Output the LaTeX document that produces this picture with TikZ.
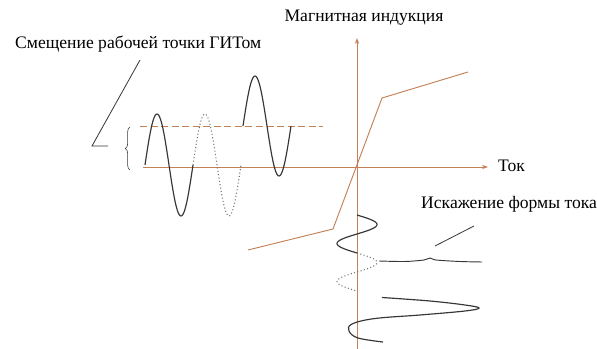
\documentclass[tikz,border=0pt]{standalone}
\usepackage{fontspec}
\setmainfont{Liberation Serif}
\usetikzlibrary{arrows.meta, decorations.pathreplacing, positioning}
\definecolor{axisbrown}{RGB}{196,128,86}
\definecolor{wavegray}{RGB}{55,55,55}
\definecolor{dotgray}{RGB}{115,115,115}

\begin{document}
\begin{tikzpicture}[x=0.03cm, y=-0.03cm,
    axis/.style={axisbrown, line width=0.8pt, -{Stealth[length=1.8mm, width=1.3mm]}},
    curve/.style={axisbrown, line width=0.8pt},
    wave/.style={wavegray, line width=1pt},
    dotwave/.style={dotgray, line width=0.9pt, dotted},
    pointer/.style={wavegray, line width=0.7pt},
    txt/.style={font=\fontsize{15}{17}\selectfont, inner sep=0pt}]
    \useasboundingbox (0,0) rectangle (597,349);

    % Axes
    \coordinate (O) at (357,167);
    \coordinate (Xs) at (143,167);
    \coordinate (Xe) at (488,167);
    \coordinate (Ys) at (357,349);
    \coordinate (Ye) at (357,38);
    \draw[axis] (Xs) -- (Xe);
    \draw[axis] (Ys) -- (Ye);

    % Offset line of the working point
    \coordinate (Ds) at (140,126);
    \coordinate (De) at (323,126);
    \draw[curve, dashed, dash pattern=on 6pt off 3pt] (Ds) -- (De);

    % Magnetization curve
    \coordinate (A) at (248,250);
    \coordinate (B) at (333,229);
    \coordinate (C) at (382,98);
    \coordinate (D) at (468,72);
    \draw[curve] (A) -- (B) -- (C) -- (D);

    % Voltage waves
    \draw[wave] plot[domain=0:360, samples=60] ({145+\x/7.5}, {165-51*sin(\x)});
    \draw[dotwave] plot[domain=360:720, samples=60] ({145+\x/7.5}, {165-51*sin(\x)});
    \draw[wave] plot[domain=0:360, samples=60] ({243+\x/7.5}, {126-50*sin(\x)});

    % Distorted current
    \draw[wave] plot[domain=0:360, samples=50] ({357+20*sin(\x)}, {215+\x/360*38});
    \draw[dotwave] plot[domain=0:360, samples=50] ({357+20*sin(\x)}, {253+\x/360*38});
    \draw[wave, line width=0.8pt] plot[smooth] coordinates
        {(379,261) (405,261.5) (424,260) (430,258) (436,260) (460,261.5) (482,262)};
    \draw[wave] plot[smooth, tension=0.6] coordinates
        {(382,297.5) (430,301) (465,305) (479,308) (465,311) (420,315)
         (375,318.5) (352,324) (349,331) (358,338) (383,342)};

    % Brace
    \draw[wavegray, line width=0.5pt, decorate, decoration={brace, amplitude=4}]
        (130,170) -- (130,127);

    % Labels
    \node[txt, anchor=center] (ind) at (364,18) {Магнитная индукция};
    \node[txt, anchor=west] (tok) at (498,166) {Ток};
    \node[txt, anchor=west] (shift) at (15,44) {Смещение рабочей точки ГИТом};
    \node[txt, anchor=west] (dist) at (421,204) {Искажение формы тока};

    % Pointers
    \coordinate (P1) at (140,60);
    \coordinate (P2) at (92,146);
    \coordinate (P3) at (108,146);
    \draw[pointer] (P1) -- (P2) -- (P3);
    \coordinate (Q1) at (435,246);
    \coordinate (Q2) at (474,226);
    \draw[pointer] (Q1) -- (Q2);
\end{tikzpicture}
\end{document}
